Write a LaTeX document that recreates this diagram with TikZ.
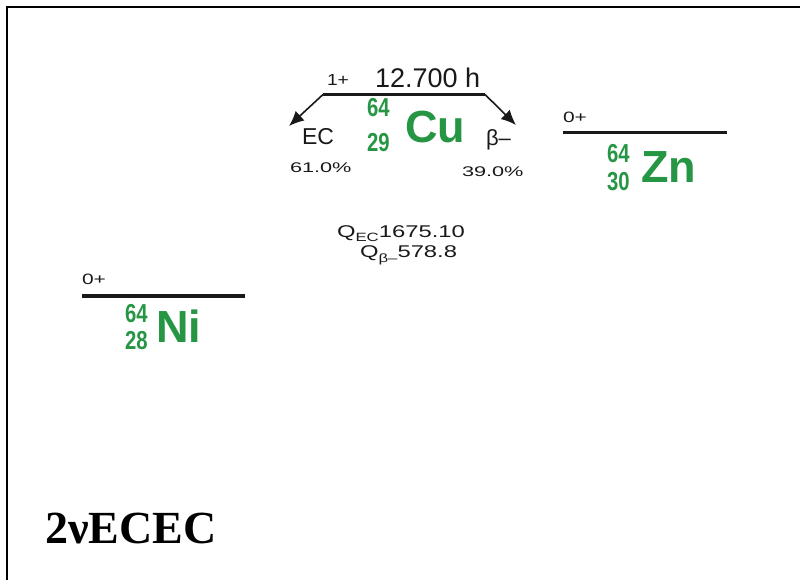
\documentclass[tikz,border=0pt]{standalone}
\usepackage{fontspec}
\setmainfont{Liberation Sans}
\newfontfamily\serifbf{Liberation Serif}
\usetikzlibrary{arrows.meta}
\definecolor{nucgreen}{RGB}{38,150,68}
\definecolor{inkgray}{RGB}{25,25,25}
\tikzset{
  lbl/.style={inner sep=0pt, outer sep=0pt, text=inkgray, anchor=base west},
  nuc/.style={inner sep=0pt, outer sep=0pt, text=nucgreen, anchor=base west},
  level/.style={line width=3.5pt, inkgray},
  decay/.style={line width=1.6pt, inkgray, -{Latex[length=15pt,width=13pt]}},
}
\newcommand{\fs}[1]{\fontsize{#1}{#1}\selectfont}
\newcommand{\wide}[2]{\scalebox{#1}[1]{#2}}
\newcommand{\nnum}[1]{\fs{26}\wide{0.78}{\bfseries #1}}
\newcommand{\nsym}[1]{\fs{45}\bfseries #1}
\begin{document}
\begin{tikzpicture}[x=1pt,y=-1pt]
\useasboundingbox (0,0) rectangle (800,580);
% frame
\draw[line width=2pt,black] (7,581) -- (7,7) -- (801,7);

% Cu level
\coordinate (cuL) at (323,94.5);
\coordinate (cuR) at (485,94.5);
\draw[level] (cuL) -- (cuR);
\coordinate (ecTip) at (289,126);
\coordinate (bTip) at (516,125);
\draw[decay] (cuL) -- (ecTip);
\draw[decay] (cuR) -- (bTip);
\node[lbl] (cuspin) at (327,86) {\fs{16}\wide{1.2}{1+}};
\node[lbl] (cuhl) at (375,88) {\fs{27}12.700 h};
\node[nuc] (cuA) at (367,117) {\nnum{64}};
\node[nuc] (cuZ) at (367,152) {\nnum{29}};
\node[nuc] (cuS) at (405,143) {\nsym{Cu}};
\node[lbl] (ec) at (302,145) {\fs{23}EC};
\node[lbl] (bm) at (486,146) {\fs{22}β–};
\node[lbl] (ecp) at (290,173) {\fs{14}\wide{1.55}{61.0\%}};
\node[lbl] (bp) at (462,177) {\fs{14}\wide{1.55}{39.0\%}};
\node[lbl] (qec) at (337,237) {\fs{17}\wide{1.4}{Q\raisebox{-4pt}{\fs{12}EC}1675.10}};
\node[lbl] (qb) at (360,257) {\fs{17}\wide{1.4}{Q\raisebox{-5pt}{\fs{12}β–}578.8}};

% Zn level
\coordinate (znL) at (563,132.5);
\coordinate (znR) at (727,132.5);
\draw[level] (znL) -- (znR);
\node[lbl] (znspin) at (563,123) {\fs{15}\wide{1.4}{0+}};
\node[nuc] (znA) at (607,163) {\nnum{64}};
\node[nuc] (znZ) at (607,190) {\nnum{30}};
\node[nuc] (znS) at (641,183) {\nsym{Zn}};

% Ni level
\coordinate (niL) at (82,296);
\coordinate (niR) at (245,296);
\draw[level] (niL) -- (niR);
\node[lbl] (nispin) at (82,284) {\fs{15}\wide{1.4}{0+}};
\node[nuc] (niA) at (125,322) {\nnum{64}};
\node[nuc] (niZ) at (125,349) {\nnum{28}};
\node[nuc] (niS) at (156,342) {\nsym{Ni}};

% title
\node[inner sep=0pt, anchor=base west, text=black] (title) at (45,543) {\serifbf\bfseries\fs{46}2νECEC};
\end{tikzpicture}
\end{document}
